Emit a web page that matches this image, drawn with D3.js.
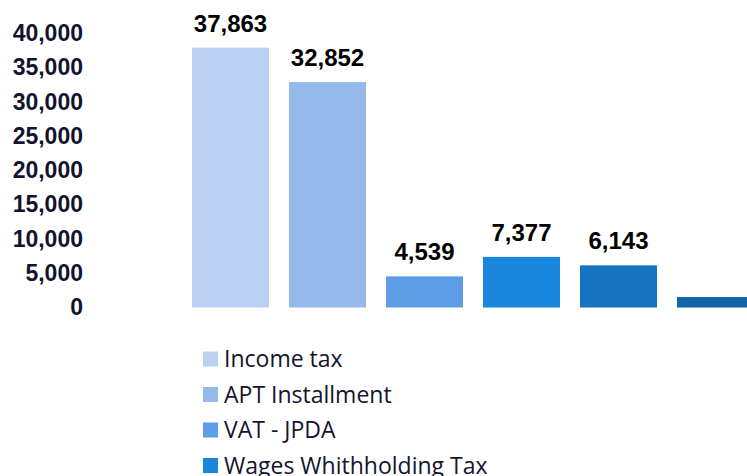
<!DOCTYPE html>
<html>
    <head>
        <title>Tax revenue</title>
        <meta charset="UTF-8">
        <script type="text/javascript" src="https://cdn.jsdelivr.net/npm/d3@7"></script>
        <style type="text/css">
            body{
                margin: 0;
                overflow: hidden;
                background: white;
            }
            .axis text{
                font-family: "Liberation Sans", Arial, sans-serif;
                font-weight: bold;
                font-size: 23px;
                fill: #13132e;
            }
            .value{
                font-family: "Liberation Sans", Arial, sans-serif;
                font-weight: bold;
                font-size: 24px;
                fill: #000;
                text-anchor: middle;
            }
            .legend text{
                font-family: "Open Sans", sans-serif;
                font-size: 23px;
                fill: #14142e;
            }
        </style>
    </head>
    <body>
        <svg id="chart" width="747" height="476"></svg>
    </body>

    <script>
        let categories = ["Income tax", "APT Installment", "VAT - JPDA", "Wages Whithholding Tax", "Withholding Tax", "Other Taxes"];
        let values = [37863, 32852, 4539, 7377, 6143, 1530];
        let valueLabels = ["37,863", "32,852", "4,539", "7,377", "6,143", ""];
        let colors = ["#bcd1f2", "#96b9ec", "#5d9de6", "#1a87dc", "#1573c0", "#1165a9"];
        let yTicks = [0, 5000, 10000, 15000, 20000, 25000, 30000, 35000, 40000];

        let rows = categories.map((c, i) => ({name: c, value: values[i], label: valueLabels[i], color: colors[i]}));

        let svg = d3.select("#chart");

        let x = d3.scaleBand()
                .domain(categories)
                .range([182, 764])
                .paddingInner(20 / 97)
                .paddingOuter(10 / 97);

        let y = d3.scaleLinear()
                .domain([0, 40000])
                .range([307.5, 33]);

        svg.append("g")
                .attr("class", "axis")
                .attr("transform", "translate(83,0)")
                .call(d3.axisLeft(y).tickValues(yTicks).tickFormat(d3.format(",")).tickSize(0).tickPadding(0))
                .call(g => g.select(".domain").remove());

        svg.selectAll(".bar")
                .data(rows)
                .join("rect")
                .attr("class", "bar")
                .attr("x", d => x(d.name))
                .attr("y", d => y(d.value))
                .attr("width", x.bandwidth())
                .attr("height", d => y(0) - y(d.value))
                .attr("fill", d => d.color);

        svg.selectAll(".value")
                .data(rows.filter(d => d.label != ""))
                .join("text")
                .attr("class", "value")
                .attr("x", d => x(d.name) + x.bandwidth() / 2)
                .attr("y", d => y(d.value) - 16)
                .text(d => d.label);

        // legend, one row per category, runs off the bottom like the original
        let legend = svg.append("g")
                .attr("class", "legend")
                .selectAll("g")
                .data(rows)
                .join("g")
                .attr("transform", (d, i) => "translate(203," + (359 + i * 35.5) + ")");

        legend.append("rect")
                .attr("y", -7.5)
                .attr("width", 15)
                .attr("height", 15)
                .attr("fill", d => d.color);

        legend.append("text")
                .attr("x", 21)
                .attr("dy", "0.36em")
                .text(d => d.name);
    </script>
</html>
